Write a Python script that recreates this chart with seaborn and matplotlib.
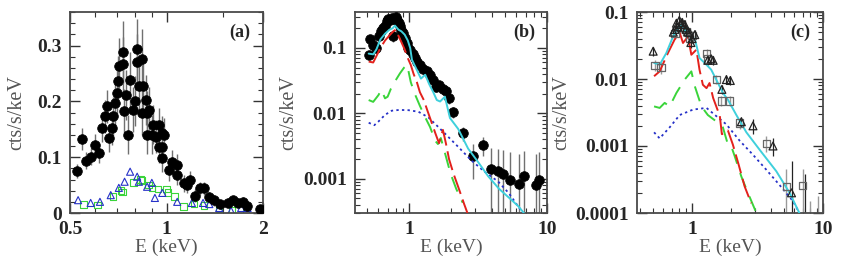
import matplotlib
matplotlib.use("Agg")
import matplotlib.pyplot as plt
from matplotlib.ticker import FixedLocator, NullFormatter, LogLocator
import seaborn as sns

# ---- panel (a): soft band spectrum, linear y ----
a_E = [0.527, 0.546, 0.56, 0.58, 0.598, 0.617, 0.63, 0.642, 0.654, 0.663, 0.676, 0.68,
       0.69, 0.70, 0.707, 0.71, 0.73, 0.73, 0.735, 0.75, 0.76, 0.77, 0.785, 0.795, 0.81,
       0.81, 0.82, 0.84, 0.845, 0.84, 0.86, 0.87, 0.885, 0.87, 0.90, 0.91, 0.93, 0.95,
       0.95, 0.97, 0.98, 0.97, 0.97, 1.02, 1.04, 1.08, 1.08, 1.13, 1.16, 1.18, 1.23,
       1.27, 1.31, 1.36, 1.41, 1.47, 1.56, 1.61, 1.67, 1.73, 1.78, 1.96]
a_rate = [0.075, 0.133, 0.094, 0.101, 0.122, 0.107, 0.152, 0.173, 0.191, 0.134, 0.152, 0.173,
          0.197, 0.215, 0.236, 0.264, 0.288, 0.266, 0.182, 0.212, 0.14, 0.239, 0.185, 0.2, 0.293,
          0.27, 0.228, 0.275, 0.228, 0.179, 0.203, 0.179, 0.185, 0.14, 0.14, 0.158, 0.137, 0.119,
          0.158, 0.143, 0.14, 0.119, 0.098, 0.077, 0.092, 0.086, 0.068, 0.053, 0.05, 0.06, 0.031,
          0.044, 0.044, 0.028, 0.023, 0.016, 0.018, 0.023, 0.018, 0.02, 0.013, 0.008]
a_err = [0.012, 0.02, 0.015, 0.015, 0.02, 0.018, 0.025, 0.03, 0.03, 0.025, 0.03, 0.035,
         0.04, 0.045, 0.045, 0.05, 0.055, 0.05, 0.04, 0.045, 0.035, 0.05, 0.04, 0.045, 0.055,
         0.05, 0.045, 0.055, 0.045, 0.04, 0.045, 0.04, 0.04, 0.035, 0.035, 0.035, 0.03, 0.03,
         0.03, 0.03, 0.03, 0.025, 0.025, 0.02, 0.02, 0.02, 0.018, 0.015, 0.015, 0.015, 0.012,
         0.012, 0.012, 0.01, 0.01, 0.008, 0.008, 0.008, 0.008, 0.008, 0.007, 0.006]
a_tri_E = [0.53, 0.58, 0.62, 0.67, 0.71, 0.74, 0.77, 0.81, 0.82, 0.87, 0.90, 0.92, 0.97,
           1.08, 1.20, 1.30, 1.36, 1.46, 1.59, 1.71, 1.79]
a_tri = [0.023, 0.018, 0.02, 0.032, 0.045, 0.056, 0.074, 0.065, 0.056, 0.047, 0.054, 0.027,
         0.036, 0.02, 0.018, 0.018, 0.016, 0.009, 0.004, 0.009, 0.009]
a_sq_E = [0.55, 0.61, 0.68, 0.72, 0.73, 0.79, 0.83, 0.84, 0.88, 0.90, 0.94, 1.0, 1.01,
          1.06, 1.13, 1.22, 1.31, 1.46, 1.60, 1.77]
a_sq = [0.015, 0.014, 0.03, 0.04, 0.038, 0.055, 0.06, 0.058, 0.05, 0.045, 0.043, 0.043,
        0.037, 0.03, 0.012, 0.016, 0.013, 0.008, 0.005, 0.005]

# ---- panel (b): log-log with model components ----
b_E = [0.51, 0.52, 0.55, 0.58, 0.61, 0.63, 0.65, 0.67, 0.69, 0.71, 0.73, 0.75, 0.76, 0.78,
       0.80, 0.82, 0.84, 0.86, 0.88, 0.90, 0.93, 0.96, 0.99, 1.02, 1.06, 1.10, 1.15, 1.20,
       1.27, 1.35, 1.42, 1.50, 1.58, 1.65, 1.75, 1.85, 1.95, 2.08, 2.46, 2.9, 3.45, 3.94,
       4.4, 4.8, 5.4, 6.3, 6.8, 8.3, 8.8]
b_rate = [0.078, 0.135, 0.11, 0.1, 0.15, 0.18, 0.2, 0.22, 0.26, 0.28, 0.27, 0.29, 0.15, 0.28,
          0.3, 0.27, 0.24, 0.22, 0.19, 0.17, 0.14, 0.12, 0.1, 0.092, 0.08, 0.07, 0.062, 0.055,
          0.048, 0.045, 0.038, 0.032, 0.025, 0.027, 0.024, 0.022, 0.017, 0.0105, 0.005, 0.0022,
          0.0033, 0.0014, 0.0013, 0.0012, 0.00095, 0.00082, 0.0011, 0.0008, 0.00095]
b_err = [0.012, 0.02, 0.015, 0.015, 0.025, 0.03, 0.035, 0.04, 0.045, 0.05, 0.05, 0.05, 0.025,
         0.05, 0.05, 0.045, 0.04, 0.035, 0.03, 0.03, 0.02, 0.018, 0.015, 0.013, 0.012, 0.01,
         0.009, 0.008, 0.007, 0.006, 0.005, 0.005, 0.004, 0.004, 0.004, 0.003, 0.003, 0.002,
         0.0012, 0.0012, 0.0011, 0.0016, 0.0016, 0.0016, 0.0016, 0.0016, 0.0016, 0.0016, 0.0016]
b_tot_E = [0.51, 0.55, 0.58, 0.62, 0.67, 0.72, 0.76, 0.79, 0.84, 0.88, 0.93, 0.98, 1.02, 1.05,
           1.14, 1.22, 1.31, 1.4, 1.5, 1.59, 1.68, 1.82, 1.98, 2.27, 2.68, 3.17, 3.74, 4.5,
           5.5, 6.2, 6.8]
b_tot = [0.082, 0.08, 0.095, 0.135, 0.165, 0.19, 0.2, 0.22, 0.19, 0.18, 0.16, 0.13, 0.1, 0.066,
         0.046, 0.034, 0.039, 0.028, 0.021, 0.016, 0.0152, 0.018, 0.0085, 0.0058, 0.0029,
         0.0018, 0.0011, 0.0007, 0.00048, 0.00038, 0.0003]
b_red_E = [0.51, 0.55, 0.58, 0.62, 0.67, 0.72, 0.77, 0.80, 0.83, 0.87, 0.93, 0.98, 1.03, 1.08,
           1.14, 1.2, 1.28, 1.36, 1.45, 1.55, 1.65, 1.76, 1.85, 1.95, 2.1, 2.3, 2.5, 2.65]
b_red = [0.062, 0.06, 0.075, 0.1, 0.13, 0.155, 0.18, 0.19, 0.16, 0.13, 0.095, 0.07, 0.055, 0.04,
         0.03, 0.021, 0.016, 0.011, 0.0075, 0.005, 0.0035, 0.0056, 0.0035, 0.002, 0.0012,
         0.0007, 0.00042, 0.0003]
b_grn_E = [0.51, 0.55, 0.6, 0.63, 0.67, 0.7, 0.74, 0.8, 0.86, 0.92, 0.97, 1.03, 1.1, 1.2, 1.3,
           1.42, 1.55, 1.62, 1.7, 1.85, 2.0, 2.2, 2.45]
b_grn = [0.016, 0.015, 0.019, 0.023, 0.017, 0.018, 0.024, 0.032, 0.041, 0.05, 0.055, 0.03, 0.02,
         0.013, 0.009, 0.0062, 0.0038, 0.0034, 0.0042, 0.0022, 0.0012, 0.0007, 0.00043]
b_blu_E = [0.51, 0.56, 0.6, 0.67, 0.75, 0.85, 0.99, 1.17, 1.38, 1.63, 1.92, 2.3, 2.84, 3.5,
           4.42, 5.3, 6.17, 6.7]
b_blu = [0.0072, 0.0066, 0.0075, 0.0095, 0.011, 0.0113, 0.0112, 0.0106, 0.0087, 0.0062, 0.0044,
         0.003, 0.0019, 0.0013, 0.00091, 0.0006, 0.00038, 0.0003]

# ---- panel (c): two instruments, log-log ----
c_tri_E = [0.505, 0.72, 0.74, 0.76, 0.78, 0.80, 0.82, 0.84, 0.86, 0.88, 0.90, 0.93, 0.96, 0.98,
           1.0, 1.05, 1.32, 1.40, 1.45, 1.69, 1.83, 1.96, 2.38, 2.92, 4.15, 5.75, 7.3]
c_tri = [0.026, 0.05, 0.055, 0.068, 0.06, 0.075, 0.065, 0.07, 0.058, 0.065, 0.055, 0.05, 0.049,
         0.035, 0.04, 0.046, 0.019, 0.02, 0.019, 0.007, 0.0098, 0.0095, 0.0023, 0.002, 0.001,
         0.0002, 0.00008]
c_tri_err = [0.004, 0.008, 0.008, 0.01, 0.009, 0.01, 0.01, 0.01, 0.009, 0.01, 0.008, 0.008,
             0.008, 0.006, 0.006, 0.007, 0.003, 0.003, 0.003, 0.001, 0.0015, 0.0015, 0.0004,
             0.0005, 0.0003, 0.0004, 0.0003]
c_sq_E = [0.52, 0.58, 0.74, 0.905, 0.96, 1.0, 1.29, 1.32, 1.53, 1.67, 1.94, 2.31, 3.7, 5.24,
          7.0, 8.0, 9.2]
c_sq = [0.016, 0.015, 0.048, 0.051, 0.041, 0.045, 0.024, 0.02, 0.0098, 0.0047, 0.0047, 0.0022,
        0.0011, 0.00025, 0.00026, 0.00005, 0.00006]
c_sq_err = [0.003, 0.003, 0.008, 0.008, 0.007, 0.007, 0.004, 0.003, 0.0015, 0.0008, 0.0008,
            0.0004, 0.0003, 0.0002, 0.0002, 0.0001, 0.00012]
c_tot_E = [0.513, 0.566, 0.637, 0.716, 0.782, 0.829, 0.879, 0.932, 0.988, 1.05, 1.14, 1.29, 1.4,
           1.53, 1.72, 1.88, 2.18, 2.6, 3.28, 4.4, 5.56, 6.6]
c_tot = [0.0174, 0.0163, 0.0245, 0.043, 0.058, 0.065, 0.051, 0.058, 0.039, 0.04, 0.0206, 0.0163,
         0.0138, 0.0098, 0.0062, 0.0049, 0.0029, 0.0016, 0.00088, 0.00042, 0.0002, 0.0001]
c_red_E = [0.513, 0.566, 0.655, 0.737, 0.805, 0.853, 0.932, 0.988, 1.08, 1.14, 1.21, 1.29, 1.36,
           1.45, 1.63, 1.69, 1.83, 1.88, 2.05, 2.25, 2.52, 2.83]
c_red = [0.011, 0.013, 0.0245, 0.039, 0.049, 0.0345, 0.043, 0.023, 0.0274, 0.0138, 0.0082,
         0.0073, 0.0087, 0.0052, 0.0028, 0.0015, 0.0016, 0.0017, 0.00105, 0.00056, 0.00025,
         0.00014]
c_grn_E = [0.513, 0.566, 0.618, 0.675, 0.76, 0.879, 0.988, 1.05, 1.18, 1.32, 1.5, 1.72, 1.88,
           1.99, 2.12, 2.38, 2.67, 3.1]
c_grn = [0.0039, 0.0037, 0.0044, 0.0039, 0.0062, 0.0098, 0.013, 0.0078, 0.0039, 0.0029, 0.0024,
         0.0019, 0.00105, 0.001, 0.0007, 0.00035, 0.0002, 0.0001]
c_blu_E = [0.513, 0.566, 0.675, 0.805, 1.02, 1.29, 1.53, 1.83, 2.31, 2.92, 3.7, 4.67, 5.9, 6.6]
c_blu = [0.0016, 0.0013, 0.0019, 0.0029, 0.0035, 0.0037, 0.0028, 0.0021, 0.0012, 0.00074,
         0.00044, 0.00026, 0.00015, 0.0001]

RED, GREEN, BLUE, CYAN = "#e3211c", "#3ad43a", "#2631c8", "#3fd0dc"
SERIF = ["Liberation Serif", "DejaVu Serif"]

sns.set_style("ticks")
plt.rcParams["font.family"] = SERIF
plt.rcParams["axes.linewidth"] = 1.3

fig = plt.figure(figsize=(8.47, 2.63), dpi=100)
ax_a = fig.add_axes([70 / 847, 1 - 213 / 263, 193 / 847, 201 / 263])
ax_b = fig.add_axes([355 / 847, 1 - 213 / 263, 192 / 847, 201 / 263])
ax_c = fig.add_axes([637 / 847, 1 - 213 / 263, 186 / 847, 201 / 263])


def models(ax, tE, t, rE, r, gE, g, bE, b):
    sns.lineplot(x=bE, y=b, ax=ax, color=BLUE, lw=1.3, linestyle=(0, (1.3, 1.8)),
                 sort=False, estimator=None, zorder=4)
    sns.lineplot(x=gE, y=g, ax=ax, color=GREEN, lw=1.4, linestyle=(0, (8, 5)),
                 sort=False, estimator=None, zorder=4)
    sns.lineplot(x=rE, y=r, ax=ax, color=RED, lw=1.4, linestyle=(0, (10, 3)),
                 sort=False, estimator=None, zorder=4)
    sns.lineplot(x=tE, y=t, ax=ax, color=CYAN, lw=1.4, sort=False, estimator=None, zorder=5)


# panel a
ax_a.errorbar(a_E, a_rate, yerr=a_err, fmt="none", ecolor="#707070", elinewidth=1.0, zorder=1)
sns.scatterplot(x=a_E, y=a_rate, ax=ax_a, marker="o", s=48, color="black",
                edgecolor="black", zorder=3)
sns.scatterplot(x=a_sq_E, y=a_sq, ax=ax_a, marker="s", s=22, facecolors="none",
                edgecolors=GREEN, linewidths=0.8, zorder=2)
sns.scatterplot(x=a_tri_E, y=a_tri, ax=ax_a, marker="^", s=26, facecolors="none",
                edgecolors=BLUE, linewidths=0.8, zorder=2)
ax_a.set_xscale("log")
ax_a.set_xlim(0.5, 2)
ax_a.set_ylim(0, 0.36)
ax_a.xaxis.set_major_locator(FixedLocator([0.5, 1, 2]))
ax_a.set_xticklabels(["0.5", "1", "2"])
ax_a.xaxis.set_minor_locator(FixedLocator([0.6, 0.7, 0.8, 0.9, 1.5]))
ax_a.xaxis.set_minor_formatter(NullFormatter())
ax_a.set_yticks([0, 0.1, 0.2, 0.3])
ax_a.set_yticklabels(["0", "0.1", "0.2", "0.3"])
ax_a.yaxis.set_minor_locator(FixedLocator([i * 0.02 for i in range(19)]))

# panel b
ax_b.errorbar(b_E, b_rate, yerr=b_err, fmt="none", ecolor="#707070", elinewidth=1.0, zorder=1)
sns.scatterplot(x=b_E, y=b_rate, ax=ax_b, marker="o", s=48, color="black",
                edgecolor="black", zorder=3)
models(ax_b, b_tot_E, b_tot, b_red_E, b_red, b_grn_E, b_grn, b_blu_E, b_blu)
ax_b.set_xscale("log")
ax_b.set_yscale("log", nonpositive="clip")
ax_b.set_xlim(0.406, 10)
ax_b.set_ylim(0.0003, 0.355)
ax_b.set_xticks([1, 10])
ax_b.set_xticklabels(["1", "10"])
ax_b.set_yticks([0.001, 0.01, 0.1])
ax_b.set_yticklabels(["0.001", "0.01", "0.1"])

# panel c
ax_c.errorbar(c_sq_E, c_sq, yerr=c_sq_err, fmt="none", ecolor="#9a9a9a", elinewidth=1.0, zorder=1)
ax_c.errorbar(c_tri_E, c_tri, yerr=c_tri_err, fmt="none", ecolor="#222222", elinewidth=0.9, zorder=1)
models(ax_c, c_tot_E, c_tot, c_red_E, c_red, c_grn_E, c_grn, c_blu_E, c_blu)
sns.scatterplot(x=c_sq_E, y=c_sq, ax=ax_c, marker="s", s=28, facecolors="none",
                edgecolors="#666666", linewidths=0.9, zorder=6)
sns.scatterplot(x=c_tri_E, y=c_tri, ax=ax_c, marker="^", s=32, facecolors="none",
                edgecolors="#222222", linewidths=0.9, zorder=6)
ax_c.set_xscale("log")
ax_c.set_yscale("log", nonpositive="clip")
ax_c.set_xlim(0.38, 10)
ax_c.set_ylim(0.0001, 0.1)
ax_c.set_xticks([1, 10])
ax_c.set_xticklabels(["1", "10"])
ax_c.set_yticks([0.0001, 0.001, 0.01, 0.1])
ax_c.set_yticklabels(["0.0001", "0.001", "0.01", "0.1"])

for ax, tag, ylab_x in [(ax_a, "(a)", -0.225), (ax_b, "(b)", -0.295), (ax_c, "(c)", -0.355)]:
    if ax is not ax_a:
        ax.xaxis.set_minor_locator(LogLocator(base=10, subs=range(2, 10)))
        ax.yaxis.set_minor_locator(LogLocator(base=10, subs=range(2, 10), numticks=20))
        ax.xaxis.set_minor_formatter(NullFormatter())
        ax.yaxis.set_minor_formatter(NullFormatter())
    ax.tick_params(which="both", direction="in", top=True, right=True, color="#333333")
    ax.tick_params(which="major", length=7, width=1.0, labelsize=14, pad=6)
    ax.tick_params(which="minor", length=3.5, width=0.8)
    for lab in ax.get_xticklabels() + ax.get_yticklabels():
        lab.set_fontweight("bold")
    for sp in ax.spines.values():
        sp.set_color("#4a4a4a")
    ax.set_xlabel("E (keV)", fontsize=14, color="#555555")
    ax.xaxis.set_label_coords(0.5, -0.13)
    ax.set_ylabel("cts/s/keV", fontsize=14.5, color="#555555")
    ax.yaxis.set_label_coords(ylab_x, 0.5)
    ax.text(0.88, 0.9, tag, transform=ax.transAxes, ha="center", va="center",
            fontsize=13, fontweight="bold")

fig.savefig("out.png", dpi=100)
